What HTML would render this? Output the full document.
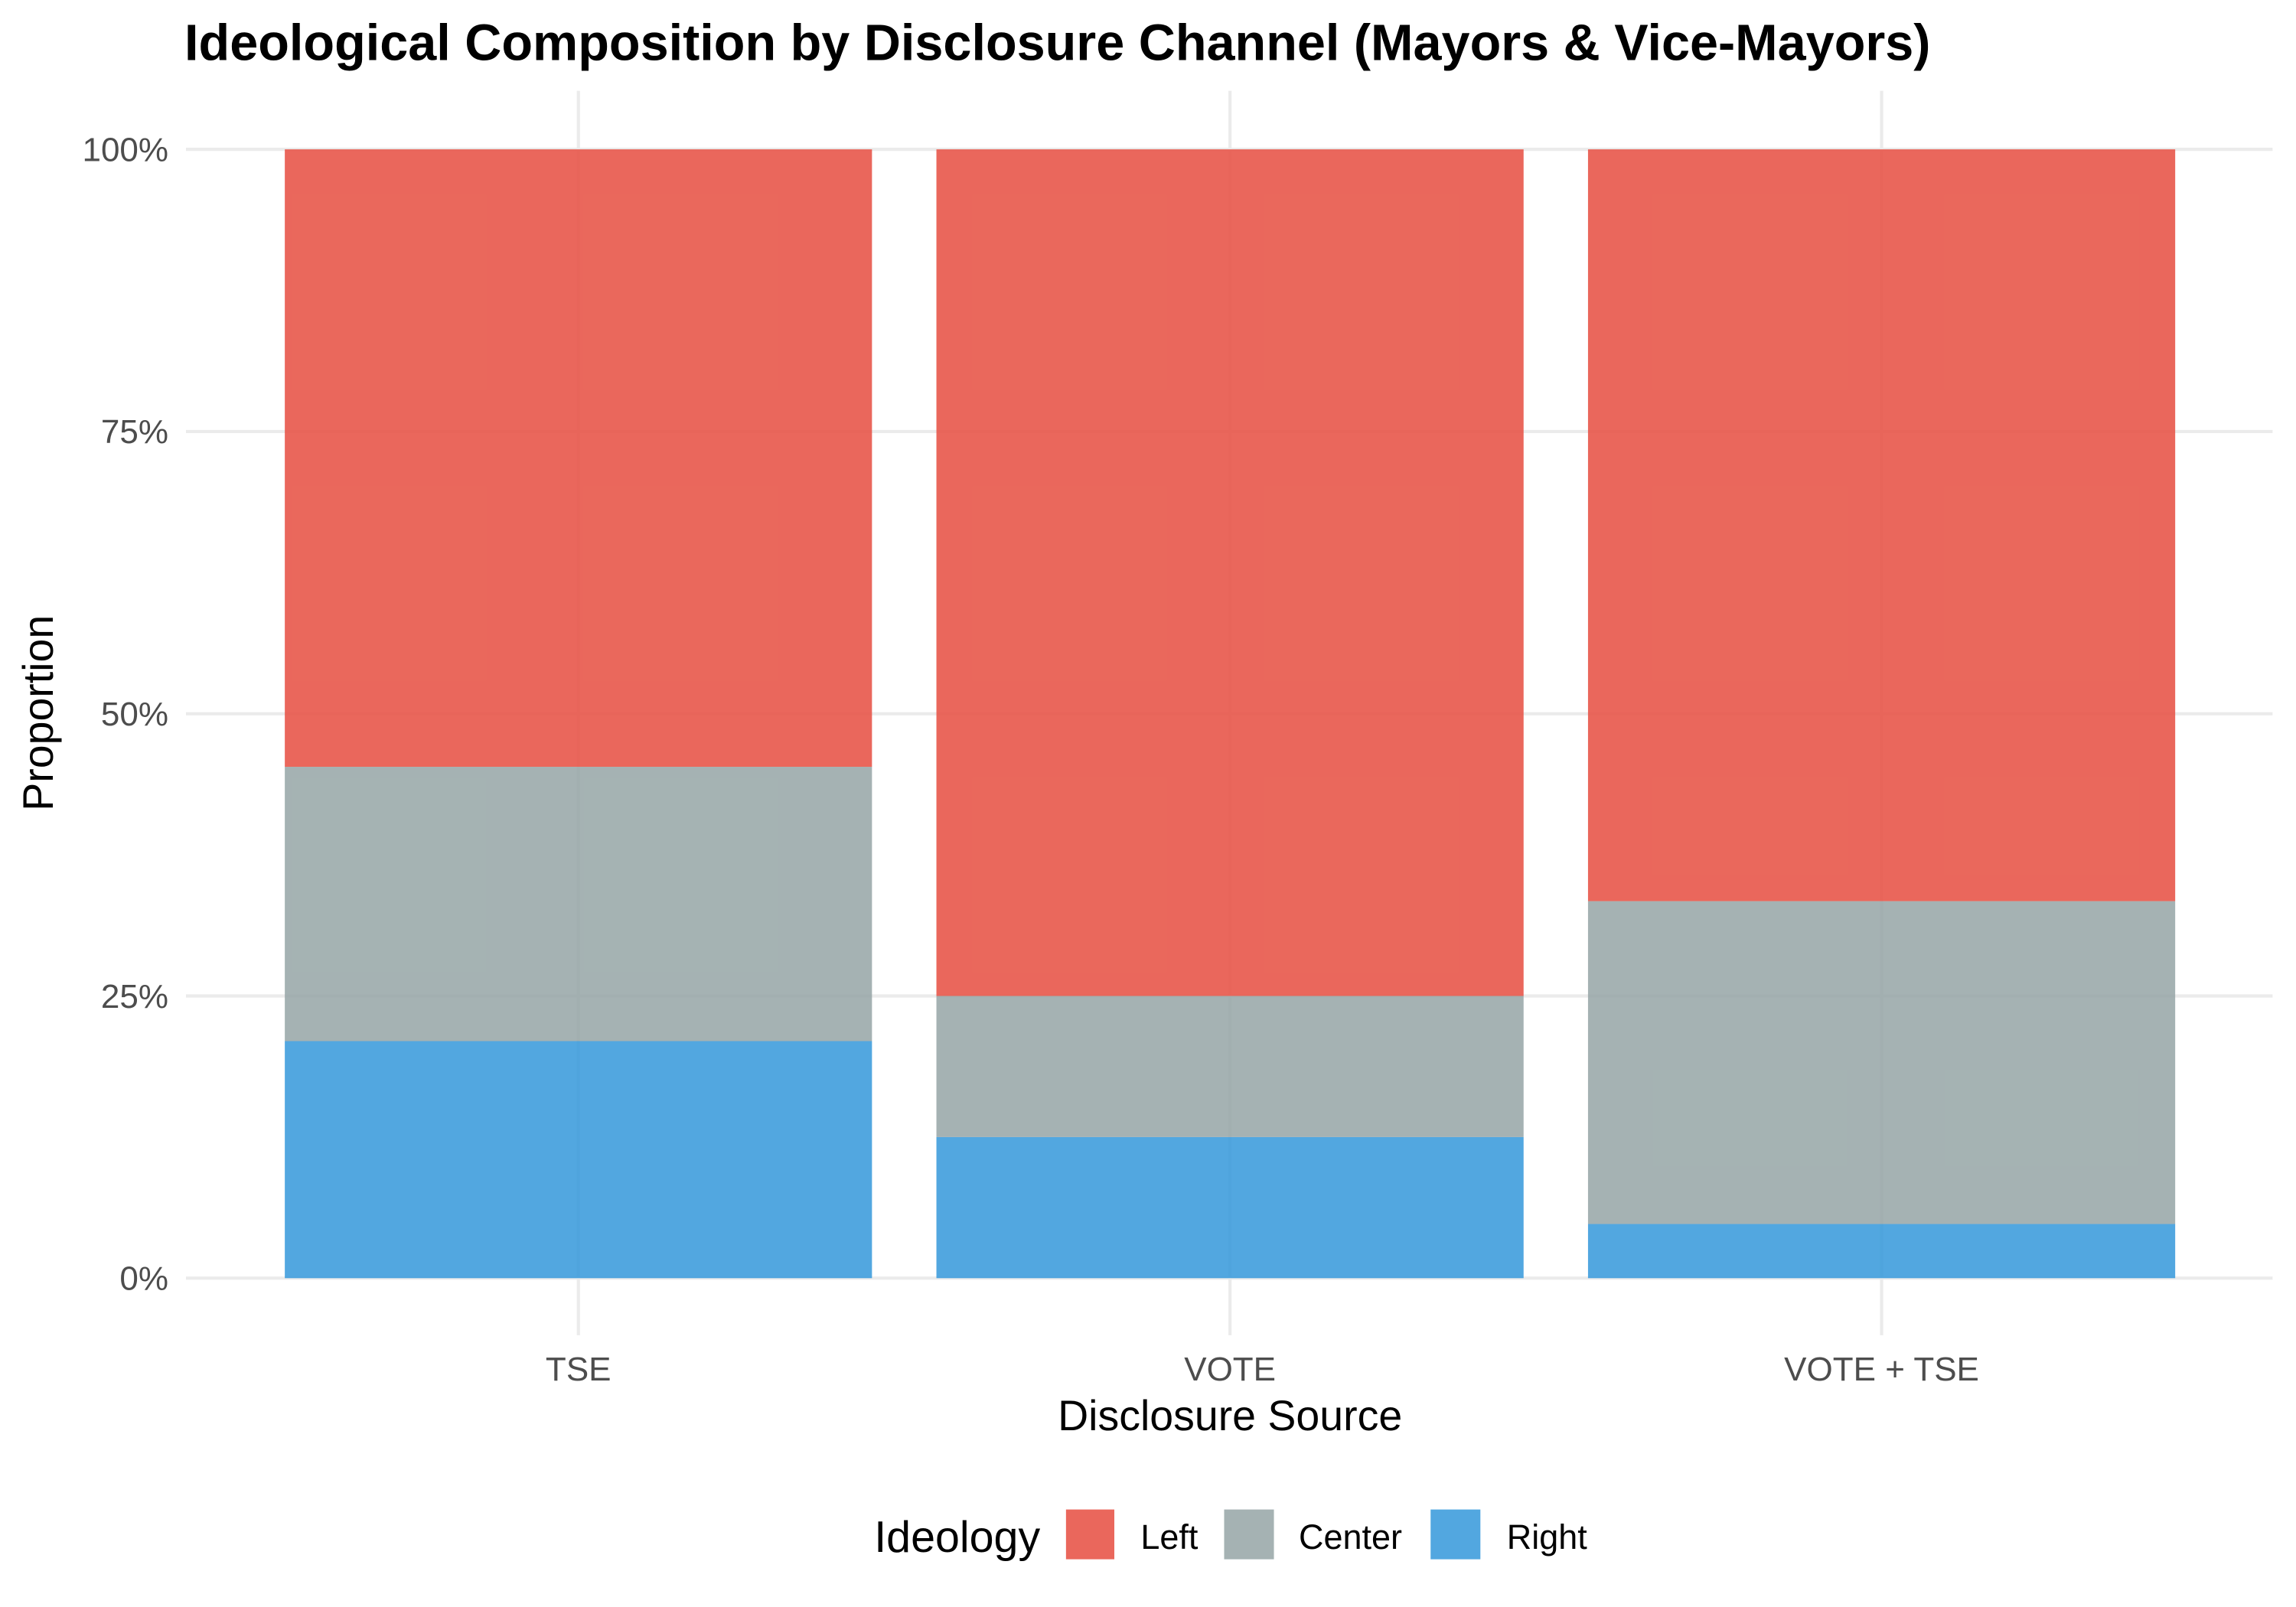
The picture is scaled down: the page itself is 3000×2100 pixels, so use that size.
<!DOCTYPE html>
<html><head><meta charset="utf-8"><style>
html,body{margin:0;padding:0;background:#fff;}
svg{display:block;font-family:"Liberation Sans",Arial,sans-serif;}
</style></head><body>
<svg id="chart" width="3000" height="2100" viewBox="0 0 1568 1097.6" preserveAspectRatio="none" xmlns="http://www.w3.org/2000/svg">
<rect width="1568" height="1097.6" fill="#fff"/>
<text x="126" y="41" font-size="34.8" font-weight="bold" fill="#000">Ideological Composition by Disclosure Channel (Mayors &amp; Vice-Mayors)</text>
<g id="grid"></g>
<g id="bars"></g>
<g id="axes"></g>
<text x="840" y="977" font-size="29" text-anchor="middle" fill="#000">Disclosure Source</text>
<text transform="translate(36,487) rotate(-90)" font-size="29" text-anchor="middle" fill="#000">Proportion</text>
<g>
<text x="597" y="1060" font-size="30" fill="#000">Ideology</text>
<rect x="728" y="1031" width="33" height="34" fill="#E8574A" fill-opacity="0.9"/>
<text x="779" y="1058" font-size="23.5" fill="#000">Left</text>
<rect x="836" y="1031" width="34" height="34" fill="#95A5A6" fill-opacity="0.85"/>
<text x="887" y="1058" font-size="23.5" fill="#000">Center</text>
<rect x="977" y="1031" width="34" height="34" fill="#3498DB" fill-opacity="0.85"/>
<text x="1029" y="1058" font-size="23.5" fill="#000">Right</text>
</g>
</svg>
<script>
const categories = ["TSE", "VOTE", "VOTE + TSE"];
const rightVals = [0.21, 0.125, 0.048];
const centerVals = [0.243, 0.125, 0.286];
const leftVals = [0.547, 0.75, 0.666];
const yTicks = [0, 0.25, 0.5, 0.75, 1];
const yTickLabels = ["0%", "25%", "50%", "75%", "100%"];

const NS = "http://www.w3.org/2000/svg";
const y0 = 873, y1 = 102;
const yScale = v => y0 - v * (y0 - y1);
const xCenter = i => 395 + i * 445;
const bw = 401;
const grid = document.getElementById('grid');
const bars = document.getElementById('bars');
const axes = document.getElementById('axes');
function mk(tag, attrs, parent) {
  const e = document.createElementNS(NS, tag);
  for (const k in attrs) e.setAttribute(k, attrs[k]);
  parent.appendChild(e);
  return e;
}
yTicks.forEach((t, i) => {
  const l = mk('line', {x1: 127, x2: 1552, y1: yScale(t), y2: yScale(t), stroke: '#ebebeb', 'stroke-width': 2.2}, grid);
  
  
  const tx = mk('text', {x: 115, y: yScale(t) + 8, 'font-size': 23, 'text-anchor': 'end', fill: '#4d4d4d'}, axes);
  tx.textContent = yTickLabels[i];
  
  
});
categories.forEach((c, i) => {
  const l = mk('line', {x1: xCenter(i), x2: xCenter(i), y1: 62, y2: 912, stroke: '#ebebeb', 'stroke-width': 2.2}, grid);
  
  
  const tx = mk('text', {x: xCenter(i), y: 943, 'font-size': 23, 'text-anchor': 'middle', fill: '#4d4d4d'}, axes);
  tx.textContent = c;
  
  
  const segs = [[rightVals[i], '#3498DB', 0.85, 'right'], [centerVals[i], '#95A5A6', 0.85, 'center'], [leftVals[i], '#E8574A', 0.9, 'left']];
  let acc = 0;
  segs.forEach(s => {
    const top = yScale(acc + s[0]), bot = yScale(acc);
    const r = mk('rect', {x: xCenter(i) - bw / 2, y: top, width: bw, height: bot - top, fill: s[1], 'fill-opacity': s[2]}, bars);
    
    
    acc += s[0];
  });
});
</script>
</body></html>
